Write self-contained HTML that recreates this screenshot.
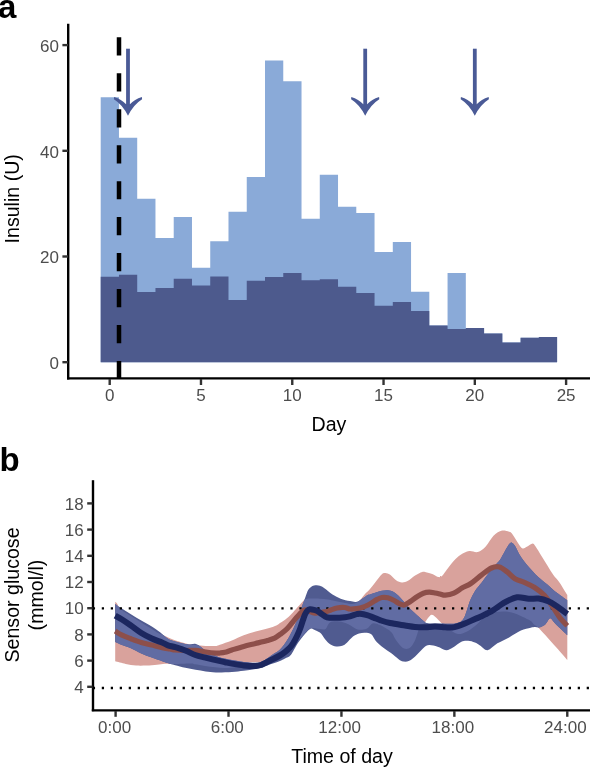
<!DOCTYPE html>
<html><head><meta charset="utf-8"><style>
html,body{margin:0;padding:0;background:#fff;}
body{width:590px;height:767px;overflow:hidden;position:relative;}
svg{position:absolute;left:0;top:0;will-change:transform;}
text{font-family:"Liberation Sans",sans-serif;}
.tk{font-size:17px;fill:#4d4d4d;}
.ti{font-size:19.6px;fill:#000;}
.lab{font-size:33px;font-weight:bold;fill:#000;}
</style></head><body>
<svg width="590" height="767" viewBox="0 0 590 767">
<path d="M100.7,362.2 L100.7,97.3 L118.96,97.3 L118.96,137.7 L137.21,137.7 L137.21,198.7 L155.47,198.7 L155.47,238.1 L173.72,238.1 L173.72,217 L191.98,217 L191.98,267.8 L210.24,267.8 L210.24,241.2 L228.49,241.2 L228.49,211.8 L246.75,211.8 L246.75,177 L265,177 L265,60.4 L283.26,60.4 L283.26,81.3 L301.52,81.3 L301.52,218.8 L319.77,218.8 L319.77,174.7 L338.03,174.7 L338.03,206.7 L356.28,206.7 L356.28,213.1 L374.54,213.1 L374.54,252 L392.8,252 L392.8,242.1 L411.05,242.1 L411.05,291.7 L429.31,291.7 L429.31,325.5 L447.56,325.5 L447.56,273.1 L465.82,273.1 L465.82,328 L484.08,328 L484.08,333.4 L502.33,333.4 L502.33,342.5 L520.59,342.5 L520.59,337.8 L538.84,337.8 L538.84,336.9 L557.1,336.9 L557.1,362.2 Z" fill="#8aaad8"/>
<path d="M100.7,362.2 L100.7,276.7 L118.96,276.7 L118.96,274.7 L137.21,274.7 L137.21,292 L155.47,292 L155.47,288.1 L173.72,288.1 L173.72,278.7 L191.98,278.7 L191.98,285.6 L210.24,285.6 L210.24,276.4 L228.49,276.4 L228.49,300 L246.75,300 L246.75,280.8 L265,280.8 L265,277 L283.26,277 L283.26,273.1 L301.52,273.1 L301.52,280.3 L319.77,280.3 L319.77,279.2 L338.03,279.2 L338.03,286.8 L356.28,286.8 L356.28,293.1 L374.54,293.1 L374.54,305.7 L392.8,305.7 L392.8,302.1 L411.05,302.1 L411.05,311 L429.31,311 L429.31,325.5 L447.56,325.5 L447.56,328.9 L465.82,328.9 L465.82,328 L484.08,328 L484.08,333.4 L502.33,333.4 L502.33,342.5 L520.59,342.5 L520.59,337.8 L538.84,337.8 L538.84,336.9 L557.1,336.9 L557.1,362.2 Z" fill="#4d5a8d"/>
<line x1="119" y1="37.3" x2="119" y2="378" stroke="#000" stroke-width="4.5" stroke-dasharray="18.2 17.76"/>
<line x1="128" y1="48.7" x2="128" y2="106" stroke="#4a5a96" stroke-width="3.8"/>
<path d="M114.1,97 Q121.5,99.3 126.1,104.3 L129.9,104.3 Q134.5,99.3 141.9,97 L142.1,99.2 Q133.5,104.5 128,115.8 Q122.5,104.5 113.9,99.2 Z" fill="#4a5a96"/>
<line x1="365.2" y1="48.7" x2="365.2" y2="106" stroke="#4a5a96" stroke-width="3.8"/>
<path d="M351.3,97 Q358.7,99.3 363.3,104.3 L367.1,104.3 Q371.7,99.3 379.1,97 L379.3,99.2 Q370.7,104.5 365.2,115.8 Q359.7,104.5 351.1,99.2 Z" fill="#4a5a96"/>
<line x1="474.8" y1="48.7" x2="474.8" y2="106" stroke="#4a5a96" stroke-width="3.8"/>
<path d="M460.9,97 Q468.3,99.3 472.9,104.3 L476.7,104.3 Q481.3,99.3 488.7,97 L488.9,99.2 Q480.3,104.5 474.8,115.8 Q469.3,104.5 460.7,99.2 Z" fill="#4a5a96"/>
<line x1="68.2" y1="23.7" x2="68.2" y2="379.6" stroke="#000" stroke-width="2.4"/>
<line x1="67" y1="378.4" x2="590" y2="378.4" stroke="#000" stroke-width="2.4"/>
<line x1="62.4" y1="362.2" x2="68" y2="362.2" stroke="#333" stroke-width="2.4"/>
<text x="59" y="369.1" text-anchor="end" class="tk">0</text>
<line x1="62.4" y1="256.5" x2="68" y2="256.5" stroke="#333" stroke-width="2.4"/>
<text x="59" y="263.4" text-anchor="end" class="tk">20</text>
<line x1="62.4" y1="150.8" x2="68" y2="150.8" stroke="#333" stroke-width="2.4"/>
<text x="59" y="157.7" text-anchor="end" class="tk">40</text>
<line x1="62.4" y1="45.1" x2="68" y2="45.1" stroke="#333" stroke-width="2.4"/>
<text x="59" y="52" text-anchor="end" class="tk">60</text>
<line x1="109.7" y1="379" x2="109.7" y2="385" stroke="#333" stroke-width="2.4"/>
<text x="109.7" y="401" text-anchor="middle" class="tk">0</text>
<line x1="200.98" y1="379" x2="200.98" y2="385" stroke="#333" stroke-width="2.4"/>
<text x="200.98" y="401" text-anchor="middle" class="tk">5</text>
<line x1="292.26" y1="379" x2="292.26" y2="385" stroke="#333" stroke-width="2.4"/>
<text x="292.26" y="401" text-anchor="middle" class="tk">10</text>
<line x1="383.54" y1="379" x2="383.54" y2="385" stroke="#333" stroke-width="2.4"/>
<text x="383.54" y="401" text-anchor="middle" class="tk">15</text>
<line x1="474.82" y1="379" x2="474.82" y2="385" stroke="#333" stroke-width="2.4"/>
<text x="474.82" y="401" text-anchor="middle" class="tk">20</text>
<line x1="566.1" y1="379" x2="566.1" y2="385" stroke="#333" stroke-width="2.4"/>
<text x="566.1" y="401" text-anchor="middle" class="tk">25</text>
<text x="329" y="431.2" text-anchor="middle" class="ti">Day</text>
<text transform="translate(19,198.8) rotate(-90)" text-anchor="middle" class="ti">Insulin (U)</text>
<text x="-2" y="17.8" class="lab">a</text>
<defs><clipPath id="cb"><path d="M115.2,603.9 C116.07,604.5 117.78,605.77 120.4,607.5 C123.02,609.23 127.42,612.13 130.9,614.3 C134.38,616.47 137.82,618.47 141.3,620.5 C144.78,622.53 148.67,624.53 151.8,626.5 C154.93,628.47 157.9,630.63 160.1,632.3 C162.3,633.97 163.27,635.22 165,636.5 C166.73,637.78 167.88,638.92 170.5,640 C173.12,641.08 177.65,642.25 180.7,643 C183.75,643.75 186.92,644.33 188.8,644.5 C190.68,644.67 190.97,644.12 192,644 C193.03,643.88 193.73,643.48 195,643.8 C196.27,644.12 197.82,644.78 199.6,645.9 C201.38,647.02 203.63,649.15 205.7,650.5 C207.77,651.85 209.62,652.83 212,654 C214.38,655.17 216.68,656.5 220,657.5 C223.32,658.5 227.95,659.25 231.9,660 C235.85,660.75 239.75,661.53 243.7,662 C247.65,662.47 252.55,662.88 255.6,662.8 C258.65,662.72 260.1,662.22 262,661.5 C263.9,660.78 265.33,659.58 267,658.5 C268.67,657.42 269.83,656.5 272,655 C274.17,653.5 277.47,651.98 280,649.5 C282.53,647.02 284.82,643.93 287.2,640.1 C289.58,636.27 292.52,630.2 294.3,626.5 C296.08,622.8 296.78,620.82 297.9,617.9 C299.02,614.98 299.92,611.98 301,609 C302.08,606.02 303.48,602.5 304.4,600 C305.32,597.5 305.82,595.75 306.5,594 C307.18,592.25 307.58,590.8 308.5,589.5 C309.42,588.2 310.7,586.92 312,586.2 C313.3,585.48 314.97,585.27 316.3,585.2 C317.63,585.13 318.65,585.3 320,585.8 C321.35,586.3 322.32,586.75 324.4,588.2 C326.48,589.65 329.78,592.75 332.5,594.5 C335.22,596.25 337.78,597.6 340.7,598.7 C343.62,599.8 347.32,600.58 350,601.1 C352.68,601.62 354.53,602.37 356.8,601.8 C359.07,601.23 361.8,598.83 363.6,597.7 C365.4,596.57 366.53,595.55 367.6,595 C368.67,594.45 368.62,594.8 370,594.4 C371.38,594 373.92,593.2 375.9,592.6 C377.88,592 379.92,591.2 381.9,590.8 C383.88,590.4 385.83,590 387.8,590.2 C389.77,590.4 391.72,590.87 393.7,592 C395.68,593.13 397.82,595.17 399.7,597 C401.58,598.83 403.23,600.98 405,603 C406.77,605.02 408.28,607.07 410.3,609.1 C412.32,611.13 414.83,613.17 417.1,615.2 C419.37,617.23 422.08,619.97 423.9,621.3 C425.72,622.63 425.32,622.82 428,623.2 C430.68,623.58 436,623.5 440,623.6 C444,623.7 449.17,623.9 452,623.8 C454.83,623.7 455.53,623.35 457,623 C458.47,622.65 459.6,622.6 460.8,621.7 C462,620.8 463.18,619.52 464.2,617.6 C465.22,615.68 465.88,613.13 466.9,610.2 C467.92,607.27 468.95,603.2 470.3,600 C471.65,596.8 473.1,593.9 475,591 C476.9,588.1 479.53,585.43 481.7,582.6 C483.87,579.77 485.72,576.93 488,574 C490.28,571.07 493.4,567.38 495.4,565 C497.4,562.62 498.45,561.97 500,559.7 C501.55,557.43 503.02,554.18 504.7,551.4 C506.38,548.62 508.72,544.32 510.1,543 C511.48,541.68 512.12,542.9 513,543.5 C513.88,544.1 514.4,544.9 515.4,546.6 C516.4,548.3 517.62,551.33 519,553.7 C520.38,556.07 521.92,558.42 523.7,560.8 C525.48,563.18 527.72,565.72 529.7,568 C531.68,570.28 533.63,572.53 535.6,574.5 C537.57,576.47 539.53,578.12 541.5,579.8 C543.47,581.48 545.42,582.9 547.4,584.6 C549.38,586.3 551.42,588.35 553.4,590 C555.38,591.65 556.98,592.78 559.3,594.5 C561.62,596.22 565.97,599.33 567.3,600.3 L567.3,635.3 C566.57,634.6 564.33,632.48 562.9,631.1 C561.47,629.72 560.18,628.48 558.7,627 C557.22,625.52 555.43,623.65 554,622.2 C552.57,620.75 551.48,618 550.1,618.3 C548.72,618.6 547.05,622.63 545.7,624 C544.35,625.37 543.18,625.92 542,626.5 C540.82,627.08 539.77,627.42 538.6,627.5 C537.43,627.58 536.32,626.97 535,627 C533.68,627.03 533.05,627.1 530.7,627.7 C528.35,628.3 524.5,628.98 520.9,630.6 C517.3,632.22 513.02,635.28 509.1,637.4 C505.18,639.52 500.98,641.17 497.4,643.3 C493.82,645.43 490.5,649.83 487.6,650.2 C484.7,650.57 482.12,646.78 480,645.5 C477.88,644.22 476.88,643.28 474.9,642.5 C472.92,641.72 470.35,640.93 468.1,640.8 C465.85,640.67 463.93,640.57 461.4,641.7 C458.87,642.83 455.45,646.18 452.9,647.6 C450.35,649.02 448.65,650.33 446.1,650.2 C443.55,650.07 440.42,647.65 437.6,646.8 C434.78,645.95 431.47,644.98 429.2,645.1 C426.93,645.22 425.53,646.42 424,647.5 C422.47,648.58 421.43,650.15 420,651.6 C418.57,653.05 417.18,654.67 415.4,656.2 C413.62,657.73 411.33,659.92 409.3,660.8 C407.27,661.68 404.98,661.77 403.2,661.5 C401.42,661.23 400.63,660.6 398.6,659.2 C396.57,657.8 393.53,655 391,653.1 C388.47,651.2 385.93,649.83 383.4,647.8 C380.87,645.77 377.82,643.15 375.8,640.9 C373.78,638.65 373.07,635.65 371.3,634.3 C369.53,632.95 367.23,632.92 365.2,632.8 C363.17,632.68 361.13,632.97 359.1,633.6 C357.07,634.23 355.03,635.08 353,636.6 C350.97,638.12 348.68,641.17 346.9,642.7 C345.12,644.23 344.08,645.17 342.3,645.8 C340.52,646.43 338.23,646.77 336.2,646.5 C334.17,646.23 331.88,645.33 330.1,644.2 C328.32,643.07 327.02,641.48 325.5,639.7 C323.98,637.92 322.25,634.87 321,633.5 C319.75,632.13 319.22,632.18 318,631.5 C316.78,630.82 315.02,629.83 313.7,629.4 C312.38,628.97 311.53,628.18 310.1,628.9 C308.67,629.62 307.13,631.35 305.1,633.7 C303.07,636.05 300.28,639.45 297.9,643 C295.52,646.55 292.95,652.42 290.8,655 C288.65,657.58 286.92,657.45 285,658.5 C283.08,659.55 282.23,660.15 279.3,661.3 C276.37,662.45 271.35,664.12 267.4,665.4 C263.45,666.68 259.55,668.1 255.6,669 C251.65,669.9 247.65,670.3 243.7,670.8 C239.75,671.3 236.53,671.73 231.9,672 C227.27,672.27 220.27,672.5 215.9,672.4 C211.53,672.3 209.1,671.83 205.7,671.4 C202.3,670.97 198.9,670.4 195.5,669.8 C192.1,669.2 188.68,668.55 185.3,667.8 C181.92,667.05 177.75,665.97 175.2,665.3 C172.65,664.63 172.17,664.47 170,663.8 C167.83,663.13 165.23,662.33 162.2,661.3 C159.17,660.27 155.28,658.9 151.8,657.6 C148.32,656.3 144.78,655.07 141.3,653.5 C137.82,651.93 134.12,649.62 130.9,648.2 C127.68,646.78 124.62,646.03 122,645 C119.38,643.97 116.33,642.5 115.2,642 Z"/></clipPath></defs>
<path d="M115.2,601.8 C115.5,602.08 116.13,602.3 117,603.5 C117.87,604.7 118.08,606.92 120.4,609 C122.72,611.08 127.42,613.75 130.9,616 C134.38,618.25 137.82,620.33 141.3,622.5 C144.78,624.67 149.02,627.25 151.8,629 C154.58,630.75 156.23,632.03 158,633 C159.77,633.97 160.32,633.9 162.4,634.8 C164.48,635.7 167.45,637.2 170.5,638.4 C173.55,639.6 177.65,641.02 180.7,642 C183.75,642.98 186.42,643.8 188.8,644.3 C191.18,644.8 192.18,644.73 195,645 C197.82,645.27 202.22,645.75 205.7,645.9 C209.18,646.05 213.52,646.1 215.9,645.9 C218.28,645.7 217.33,645.6 220,644.7 C222.67,643.8 227.95,642.08 231.9,640.5 C235.85,638.92 239.75,636.68 243.7,635.2 C247.65,633.72 251.65,632.7 255.6,631.6 C259.55,630.5 263.85,629.67 267.4,628.6 C270.95,627.53 274.8,626.13 276.9,625.2 C279,624.27 278.82,623.78 280,623 C281.18,622.22 282.33,621.75 284,620.5 C285.67,619.25 288,617.42 290,615.5 C292,613.58 293.72,611.5 296,609 C298.28,606.5 302.03,602.17 303.7,600.5 C305.37,598.83 304.95,599.33 306,599 C307.05,598.67 307.67,598.55 310,598.5 C312.33,598.45 317,598.53 320,598.7 C323,598.87 325.5,599.12 328,599.5 C330.5,599.88 332.17,600.42 335,601 C337.83,601.58 342.17,602.5 345,603 C347.83,603.5 350,604.08 352,604 C354,603.92 355.5,603.33 357,602.5 C358.5,601.67 359.67,600.42 361,599 C362.33,597.58 363.5,595.67 365,594 C366.5,592.33 368.18,591.1 370,589 C371.82,586.9 373.92,583.87 375.9,581.4 C377.88,578.93 380.32,575.6 381.9,574.2 C383.48,572.8 384.02,572.9 385.4,573 C386.78,573.1 388.42,573.6 390.2,574.8 C391.98,576 394.13,578.92 396.1,580.2 C398.07,581.48 400.02,582.4 402,582.5 C403.98,582.6 405.82,581.98 408,580.8 C410.18,579.62 412.73,576.88 415.1,575.4 C417.47,573.92 420.23,572.38 422.2,571.9 C424.17,571.42 425.12,572.12 426.9,572.5 C428.68,572.88 431.05,573.45 432.9,574.2 C434.75,574.95 436.48,576.7 438,577 C439.52,577.3 440.48,577.3 442,576 C443.52,574.7 445.12,571.75 447.1,569.2 C449.08,566.65 451.63,563.12 453.9,560.7 C456.17,558.28 458.15,556.32 460.7,554.7 C463.25,553.08 466.35,551.45 469.2,551 C472.05,550.55 475.05,552.77 477.8,552 C480.55,551.23 483.08,549.12 485.7,546.4 C488.32,543.68 490.9,538.3 493.5,535.7 C496.1,533.1 498.7,531.47 501.3,530.8 C503.9,530.13 507.33,531.23 509.1,531.7 C510.87,532.17 510.65,532.1 511.9,533.6 C513.15,535.1 515.02,538.33 516.6,540.7 C518.18,543.07 520.17,546.55 521.4,547.8 C522.63,549.05 523.02,548.4 524,548.2 C524.98,548 525.87,547.4 527.3,546.6 C528.73,545.8 531.22,543.4 532.6,543.4 C533.98,543.4 534.12,544.48 535.6,546.6 C537.08,548.72 539.53,552.93 541.5,556.1 C543.47,559.27 545.42,562.43 547.4,565.6 C549.38,568.77 551.42,572.33 553.4,575.1 C555.38,577.87 557.33,579.43 559.3,582.2 C561.27,584.97 563.87,589.57 565.2,591.7 C566.53,593.83 566.95,594.45 567.3,595 L567.3,660 C565.75,658.22 561.17,652.88 558,649.3 C554.83,645.72 551.55,642.08 548.3,638.5 C545.05,634.92 540.88,630.13 538.5,627.8 C536.12,625.47 535.63,625.83 534,624.5 C532.37,623.17 532.85,621.88 528.7,619.8 C524.55,617.72 515.62,612.97 509.1,612 C502.58,611.03 495.28,611.67 489.6,614 C483.92,616.33 478.93,623 475,626 C471.07,629 468.83,630.67 466,632 C463.17,633.33 460.67,634.33 458,634 C455.33,633.67 452.7,631.77 450,630 C447.3,628.23 444.13,625.48 441.8,623.4 C439.47,621.32 437.68,618.93 436,617.5 C434.32,616.07 433.03,614.72 431.7,614.8 C430.37,614.88 429.18,616.65 428,618 C426.82,619.35 425.77,621.73 424.6,622.9 C423.43,624.07 422.02,623.77 421,625 C419.98,626.23 419.43,627.9 418.5,630.3 C417.57,632.7 416.68,636.62 415.4,639.4 C414.12,642.18 412.32,645.42 410.8,647 C409.28,648.58 407.82,648.9 406.3,648.9 C404.78,648.9 403.48,648.58 401.7,647 C399.92,645.42 397.22,641.73 395.6,639.4 C393.98,637.07 393.27,634.65 392,633 C390.73,631.35 390,630.83 388,629.5 C386,628.17 382.55,626.02 380,625 C377.45,623.98 374.93,622.78 372.7,623.4 C370.47,624.02 369.13,627.68 366.6,628.7 C364.07,629.72 360.55,630.25 357.5,629.5 C354.45,628.75 351.38,625.53 348.3,624.2 C345.22,622.87 342.05,621.78 339,621.5 C335.95,621.22 332.25,621.25 330,622.5 C327.75,623.75 327.17,627.92 325.5,629 C323.83,630.08 321.75,629.13 320,629 C318.25,628.87 316.67,628.28 315,628.2 C313.33,628.12 311.67,627.7 310,628.5 C308.33,629.3 307.02,630.92 305,633 C302.98,635.08 300.27,638 297.9,641 C295.53,644 292.95,649.17 290.8,651 C288.65,652.83 286.92,651.83 285,652 C283.08,652.17 281.23,651.45 279.3,652 C277.37,652.55 275.38,654.15 273.4,655.3 C271.42,656.45 269.47,657.78 267.4,658.9 C265.33,660.02 262.97,661.45 261,662 C259.03,662.55 257.43,662.12 255.6,662.2 C253.77,662.28 251.98,662.2 250,662.5 C248.02,662.8 246.08,663.25 243.7,664 C241.32,664.75 238.82,666.33 235.7,667 C232.58,667.67 228.4,667.95 225,668 C221.6,668.05 218.63,667.63 215.3,667.3 C211.97,666.97 208.38,666.5 205,666 C201.62,665.5 197.5,664.72 195,664.3 C192.5,663.88 193.33,663.55 190,663.5 C186.67,663.45 179.17,663.97 175,664 C170.83,664.03 168,663.58 165,663.7 C162,663.82 160.08,664.4 157,664.7 C153.92,665 149.98,665.37 146.5,665.5 C143.02,665.63 139.57,665.77 136.1,665.5 C132.63,665.23 129.18,664.6 125.7,663.9 C122.22,663.2 116.95,661.73 115.2,661.3 Z" fill="#d9a29c"/>
<path d="M115.2,603.9 C116.07,604.5 117.78,605.77 120.4,607.5 C123.02,609.23 127.42,612.13 130.9,614.3 C134.38,616.47 137.82,618.47 141.3,620.5 C144.78,622.53 148.67,624.53 151.8,626.5 C154.93,628.47 157.9,630.63 160.1,632.3 C162.3,633.97 163.27,635.22 165,636.5 C166.73,637.78 167.88,638.92 170.5,640 C173.12,641.08 177.65,642.25 180.7,643 C183.75,643.75 186.92,644.33 188.8,644.5 C190.68,644.67 190.97,644.12 192,644 C193.03,643.88 193.73,643.48 195,643.8 C196.27,644.12 197.82,644.78 199.6,645.9 C201.38,647.02 203.63,649.15 205.7,650.5 C207.77,651.85 209.62,652.83 212,654 C214.38,655.17 216.68,656.5 220,657.5 C223.32,658.5 227.95,659.25 231.9,660 C235.85,660.75 239.75,661.53 243.7,662 C247.65,662.47 252.55,662.88 255.6,662.8 C258.65,662.72 260.1,662.22 262,661.5 C263.9,660.78 265.33,659.58 267,658.5 C268.67,657.42 269.83,656.5 272,655 C274.17,653.5 277.47,651.98 280,649.5 C282.53,647.02 284.82,643.93 287.2,640.1 C289.58,636.27 292.52,630.2 294.3,626.5 C296.08,622.8 296.78,620.82 297.9,617.9 C299.02,614.98 299.92,611.98 301,609 C302.08,606.02 303.48,602.5 304.4,600 C305.32,597.5 305.82,595.75 306.5,594 C307.18,592.25 307.58,590.8 308.5,589.5 C309.42,588.2 310.7,586.92 312,586.2 C313.3,585.48 314.97,585.27 316.3,585.2 C317.63,585.13 318.65,585.3 320,585.8 C321.35,586.3 322.32,586.75 324.4,588.2 C326.48,589.65 329.78,592.75 332.5,594.5 C335.22,596.25 337.78,597.6 340.7,598.7 C343.62,599.8 347.32,600.58 350,601.1 C352.68,601.62 354.53,602.37 356.8,601.8 C359.07,601.23 361.8,598.83 363.6,597.7 C365.4,596.57 366.53,595.55 367.6,595 C368.67,594.45 368.62,594.8 370,594.4 C371.38,594 373.92,593.2 375.9,592.6 C377.88,592 379.92,591.2 381.9,590.8 C383.88,590.4 385.83,590 387.8,590.2 C389.77,590.4 391.72,590.87 393.7,592 C395.68,593.13 397.82,595.17 399.7,597 C401.58,598.83 403.23,600.98 405,603 C406.77,605.02 408.28,607.07 410.3,609.1 C412.32,611.13 414.83,613.17 417.1,615.2 C419.37,617.23 422.08,619.97 423.9,621.3 C425.72,622.63 425.32,622.82 428,623.2 C430.68,623.58 436,623.5 440,623.6 C444,623.7 449.17,623.9 452,623.8 C454.83,623.7 455.53,623.35 457,623 C458.47,622.65 459.6,622.6 460.8,621.7 C462,620.8 463.18,619.52 464.2,617.6 C465.22,615.68 465.88,613.13 466.9,610.2 C467.92,607.27 468.95,603.2 470.3,600 C471.65,596.8 473.1,593.9 475,591 C476.9,588.1 479.53,585.43 481.7,582.6 C483.87,579.77 485.72,576.93 488,574 C490.28,571.07 493.4,567.38 495.4,565 C497.4,562.62 498.45,561.97 500,559.7 C501.55,557.43 503.02,554.18 504.7,551.4 C506.38,548.62 508.72,544.32 510.1,543 C511.48,541.68 512.12,542.9 513,543.5 C513.88,544.1 514.4,544.9 515.4,546.6 C516.4,548.3 517.62,551.33 519,553.7 C520.38,556.07 521.92,558.42 523.7,560.8 C525.48,563.18 527.72,565.72 529.7,568 C531.68,570.28 533.63,572.53 535.6,574.5 C537.57,576.47 539.53,578.12 541.5,579.8 C543.47,581.48 545.42,582.9 547.4,584.6 C549.38,586.3 551.42,588.35 553.4,590 C555.38,591.65 556.98,592.78 559.3,594.5 C561.62,596.22 565.97,599.33 567.3,600.3 L567.3,635.3 C566.57,634.6 564.33,632.48 562.9,631.1 C561.47,629.72 560.18,628.48 558.7,627 C557.22,625.52 555.43,623.65 554,622.2 C552.57,620.75 551.48,618 550.1,618.3 C548.72,618.6 547.05,622.63 545.7,624 C544.35,625.37 543.18,625.92 542,626.5 C540.82,627.08 539.77,627.42 538.6,627.5 C537.43,627.58 536.32,626.97 535,627 C533.68,627.03 533.05,627.1 530.7,627.7 C528.35,628.3 524.5,628.98 520.9,630.6 C517.3,632.22 513.02,635.28 509.1,637.4 C505.18,639.52 500.98,641.17 497.4,643.3 C493.82,645.43 490.5,649.83 487.6,650.2 C484.7,650.57 482.12,646.78 480,645.5 C477.88,644.22 476.88,643.28 474.9,642.5 C472.92,641.72 470.35,640.93 468.1,640.8 C465.85,640.67 463.93,640.57 461.4,641.7 C458.87,642.83 455.45,646.18 452.9,647.6 C450.35,649.02 448.65,650.33 446.1,650.2 C443.55,650.07 440.42,647.65 437.6,646.8 C434.78,645.95 431.47,644.98 429.2,645.1 C426.93,645.22 425.53,646.42 424,647.5 C422.47,648.58 421.43,650.15 420,651.6 C418.57,653.05 417.18,654.67 415.4,656.2 C413.62,657.73 411.33,659.92 409.3,660.8 C407.27,661.68 404.98,661.77 403.2,661.5 C401.42,661.23 400.63,660.6 398.6,659.2 C396.57,657.8 393.53,655 391,653.1 C388.47,651.2 385.93,649.83 383.4,647.8 C380.87,645.77 377.82,643.15 375.8,640.9 C373.78,638.65 373.07,635.65 371.3,634.3 C369.53,632.95 367.23,632.92 365.2,632.8 C363.17,632.68 361.13,632.97 359.1,633.6 C357.07,634.23 355.03,635.08 353,636.6 C350.97,638.12 348.68,641.17 346.9,642.7 C345.12,644.23 344.08,645.17 342.3,645.8 C340.52,646.43 338.23,646.77 336.2,646.5 C334.17,646.23 331.88,645.33 330.1,644.2 C328.32,643.07 327.02,641.48 325.5,639.7 C323.98,637.92 322.25,634.87 321,633.5 C319.75,632.13 319.22,632.18 318,631.5 C316.78,630.82 315.02,629.83 313.7,629.4 C312.38,628.97 311.53,628.18 310.1,628.9 C308.67,629.62 307.13,631.35 305.1,633.7 C303.07,636.05 300.28,639.45 297.9,643 C295.52,646.55 292.95,652.42 290.8,655 C288.65,657.58 286.92,657.45 285,658.5 C283.08,659.55 282.23,660.15 279.3,661.3 C276.37,662.45 271.35,664.12 267.4,665.4 C263.45,666.68 259.55,668.1 255.6,669 C251.65,669.9 247.65,670.3 243.7,670.8 C239.75,671.3 236.53,671.73 231.9,672 C227.27,672.27 220.27,672.5 215.9,672.4 C211.53,672.3 209.1,671.83 205.7,671.4 C202.3,670.97 198.9,670.4 195.5,669.8 C192.1,669.2 188.68,668.55 185.3,667.8 C181.92,667.05 177.75,665.97 175.2,665.3 C172.65,664.63 172.17,664.47 170,663.8 C167.83,663.13 165.23,662.33 162.2,661.3 C159.17,660.27 155.28,658.9 151.8,657.6 C148.32,656.3 144.78,655.07 141.3,653.5 C137.82,651.93 134.12,649.62 130.9,648.2 C127.68,646.78 124.62,646.03 122,645 C119.38,643.97 116.33,642.5 115.2,642 Z" fill="#505b90"/>
<path d="M115.2,601.8 C115.5,602.08 116.13,602.3 117,603.5 C117.87,604.7 118.08,606.92 120.4,609 C122.72,611.08 127.42,613.75 130.9,616 C134.38,618.25 137.82,620.33 141.3,622.5 C144.78,624.67 149.02,627.25 151.8,629 C154.58,630.75 156.23,632.03 158,633 C159.77,633.97 160.32,633.9 162.4,634.8 C164.48,635.7 167.45,637.2 170.5,638.4 C173.55,639.6 177.65,641.02 180.7,642 C183.75,642.98 186.42,643.8 188.8,644.3 C191.18,644.8 192.18,644.73 195,645 C197.82,645.27 202.22,645.75 205.7,645.9 C209.18,646.05 213.52,646.1 215.9,645.9 C218.28,645.7 217.33,645.6 220,644.7 C222.67,643.8 227.95,642.08 231.9,640.5 C235.85,638.92 239.75,636.68 243.7,635.2 C247.65,633.72 251.65,632.7 255.6,631.6 C259.55,630.5 263.85,629.67 267.4,628.6 C270.95,627.53 274.8,626.13 276.9,625.2 C279,624.27 278.82,623.78 280,623 C281.18,622.22 282.33,621.75 284,620.5 C285.67,619.25 288,617.42 290,615.5 C292,613.58 293.72,611.5 296,609 C298.28,606.5 302.03,602.17 303.7,600.5 C305.37,598.83 304.95,599.33 306,599 C307.05,598.67 307.67,598.55 310,598.5 C312.33,598.45 317,598.53 320,598.7 C323,598.87 325.5,599.12 328,599.5 C330.5,599.88 332.17,600.42 335,601 C337.83,601.58 342.17,602.5 345,603 C347.83,603.5 350,604.08 352,604 C354,603.92 355.5,603.33 357,602.5 C358.5,601.67 359.67,600.42 361,599 C362.33,597.58 363.5,595.67 365,594 C366.5,592.33 368.18,591.1 370,589 C371.82,586.9 373.92,583.87 375.9,581.4 C377.88,578.93 380.32,575.6 381.9,574.2 C383.48,572.8 384.02,572.9 385.4,573 C386.78,573.1 388.42,573.6 390.2,574.8 C391.98,576 394.13,578.92 396.1,580.2 C398.07,581.48 400.02,582.4 402,582.5 C403.98,582.6 405.82,581.98 408,580.8 C410.18,579.62 412.73,576.88 415.1,575.4 C417.47,573.92 420.23,572.38 422.2,571.9 C424.17,571.42 425.12,572.12 426.9,572.5 C428.68,572.88 431.05,573.45 432.9,574.2 C434.75,574.95 436.48,576.7 438,577 C439.52,577.3 440.48,577.3 442,576 C443.52,574.7 445.12,571.75 447.1,569.2 C449.08,566.65 451.63,563.12 453.9,560.7 C456.17,558.28 458.15,556.32 460.7,554.7 C463.25,553.08 466.35,551.45 469.2,551 C472.05,550.55 475.05,552.77 477.8,552 C480.55,551.23 483.08,549.12 485.7,546.4 C488.32,543.68 490.9,538.3 493.5,535.7 C496.1,533.1 498.7,531.47 501.3,530.8 C503.9,530.13 507.33,531.23 509.1,531.7 C510.87,532.17 510.65,532.1 511.9,533.6 C513.15,535.1 515.02,538.33 516.6,540.7 C518.18,543.07 520.17,546.55 521.4,547.8 C522.63,549.05 523.02,548.4 524,548.2 C524.98,548 525.87,547.4 527.3,546.6 C528.73,545.8 531.22,543.4 532.6,543.4 C533.98,543.4 534.12,544.48 535.6,546.6 C537.08,548.72 539.53,552.93 541.5,556.1 C543.47,559.27 545.42,562.43 547.4,565.6 C549.38,568.77 551.42,572.33 553.4,575.1 C555.38,577.87 557.33,579.43 559.3,582.2 C561.27,584.97 563.87,589.57 565.2,591.7 C566.53,593.83 566.95,594.45 567.3,595 L567.3,660 C565.75,658.22 561.17,652.88 558,649.3 C554.83,645.72 551.55,642.08 548.3,638.5 C545.05,634.92 540.88,630.13 538.5,627.8 C536.12,625.47 535.63,625.83 534,624.5 C532.37,623.17 532.85,621.88 528.7,619.8 C524.55,617.72 515.62,612.97 509.1,612 C502.58,611.03 495.28,611.67 489.6,614 C483.92,616.33 478.93,623 475,626 C471.07,629 468.83,630.67 466,632 C463.17,633.33 460.67,634.33 458,634 C455.33,633.67 452.7,631.77 450,630 C447.3,628.23 444.13,625.48 441.8,623.4 C439.47,621.32 437.68,618.93 436,617.5 C434.32,616.07 433.03,614.72 431.7,614.8 C430.37,614.88 429.18,616.65 428,618 C426.82,619.35 425.77,621.73 424.6,622.9 C423.43,624.07 422.02,623.77 421,625 C419.98,626.23 419.43,627.9 418.5,630.3 C417.57,632.7 416.68,636.62 415.4,639.4 C414.12,642.18 412.32,645.42 410.8,647 C409.28,648.58 407.82,648.9 406.3,648.9 C404.78,648.9 403.48,648.58 401.7,647 C399.92,645.42 397.22,641.73 395.6,639.4 C393.98,637.07 393.27,634.65 392,633 C390.73,631.35 390,630.83 388,629.5 C386,628.17 382.55,626.02 380,625 C377.45,623.98 374.93,622.78 372.7,623.4 C370.47,624.02 369.13,627.68 366.6,628.7 C364.07,629.72 360.55,630.25 357.5,629.5 C354.45,628.75 351.38,625.53 348.3,624.2 C345.22,622.87 342.05,621.78 339,621.5 C335.95,621.22 332.25,621.25 330,622.5 C327.75,623.75 327.17,627.92 325.5,629 C323.83,630.08 321.75,629.13 320,629 C318.25,628.87 316.67,628.28 315,628.2 C313.33,628.12 311.67,627.7 310,628.5 C308.33,629.3 307.02,630.92 305,633 C302.98,635.08 300.27,638 297.9,641 C295.53,644 292.95,649.17 290.8,651 C288.65,652.83 286.92,651.83 285,652 C283.08,652.17 281.23,651.45 279.3,652 C277.37,652.55 275.38,654.15 273.4,655.3 C271.42,656.45 269.47,657.78 267.4,658.9 C265.33,660.02 262.97,661.45 261,662 C259.03,662.55 257.43,662.12 255.6,662.2 C253.77,662.28 251.98,662.2 250,662.5 C248.02,662.8 246.08,663.25 243.7,664 C241.32,664.75 238.82,666.33 235.7,667 C232.58,667.67 228.4,667.95 225,668 C221.6,668.05 218.63,667.63 215.3,667.3 C211.97,666.97 208.38,666.5 205,666 C201.62,665.5 197.5,664.72 195,664.3 C192.5,663.88 193.33,663.55 190,663.5 C186.67,663.45 179.17,663.97 175,664 C170.83,664.03 168,663.58 165,663.7 C162,663.82 160.08,664.4 157,664.7 C153.92,665 149.98,665.37 146.5,665.5 C143.02,665.63 139.57,665.77 136.1,665.5 C132.63,665.23 129.18,664.6 125.7,663.9 C122.22,663.2 116.95,661.73 115.2,661.3 Z" fill="#616ca3" clip-path="url(#cb)"/>
<line x1="92.8" y1="608.4" x2="590" y2="608.4" stroke="#000" stroke-width="2.3" stroke-dasharray="2.25 6.73"/>
<line x1="92.8" y1="688" x2="590" y2="688" stroke="#000" stroke-width="2.3" stroke-dasharray="2.25 6.73"/>
<path d="M115.2,631 C116.33,631.7 119.38,633.9 122,635.2 C124.62,636.5 127.68,637.58 130.9,638.8 C134.12,640.02 137.82,641.45 141.3,642.5 C144.78,643.55 148.32,644.23 151.8,645.1 C155.28,645.97 159.17,647.05 162.2,647.7 C165.23,648.35 167.83,648.62 170,649 C172.17,649.38 172.65,649.75 175.2,650 C177.75,650.25 181.92,650.45 185.3,650.5 C188.68,650.55 192.1,650.05 195.5,650.3 C198.9,650.55 202.3,651.53 205.7,652 C209.1,652.47 213.52,652.93 215.9,653.1 C218.28,653.27 218.48,653.13 220,653 C221.52,652.87 223.02,652.8 225,652.3 C226.98,651.8 228.78,650.98 231.9,650 C235.02,649.02 239.75,647.48 243.7,646.4 C247.65,645.32 251.65,644.48 255.6,643.5 C259.55,642.52 264.23,641.4 267.4,640.5 C270.57,639.6 272.5,639.12 274.6,638.1 C276.7,637.08 277.9,635.97 280,634.4 C282.1,632.83 284.82,631.08 287.2,628.7 C289.58,626.32 291.92,622.85 294.3,620.1 C296.68,617.35 299.72,613.92 301.5,612.2 C303.28,610.48 303.58,609.92 305,609.8 C306.42,609.68 308.5,610.97 310,611.5 C311.5,612.03 312.67,612.78 314,613 C315.33,613.22 316.67,612.92 318,612.8 C319.33,612.68 320.5,612.52 322,612.3 C323.5,612.08 325.5,611.88 327,611.5 C328.5,611.12 329.33,610.58 331,610 C332.67,609.42 334.72,608.42 337,608 C339.28,607.58 342.53,607.33 344.7,607.5 C346.87,607.67 347.98,608.82 350,609 C352.02,609.18 354.53,608.93 356.8,608.6 C359.07,608.27 361.73,607.6 363.6,607 C365.47,606.4 366.53,605.77 368,605 C369.47,604.23 370.88,603.33 372.4,602.4 C373.92,601.47 375.52,600.22 377.1,599.4 C378.68,598.58 380.12,597.77 381.9,597.5 C383.68,597.23 385.83,597.33 387.8,597.8 C389.77,598.27 391.72,599.28 393.7,600.3 C395.68,601.32 397.92,603.12 399.7,603.9 C401.48,604.68 402.63,605.4 404.4,605 C406.17,604.6 408.13,602.92 410.3,601.5 C412.47,600.08 415.22,597.88 417.4,596.5 C419.58,595.12 421.42,593.92 423.4,593.2 C425.38,592.48 427.33,592.23 429.3,592.2 C431.27,592.17 433.42,592.7 435.2,593 C436.98,593.3 438.3,593.63 440,594 C441.7,594.37 443.08,595.33 445.4,595.2 C447.72,595.07 451.07,594.43 453.9,593.2 C456.73,591.97 459.58,589.42 462.4,587.8 C465.22,586.18 467.58,585.67 470.8,583.5 C474.02,581.33 478.25,577.38 481.7,574.8 C485.15,572.22 488.55,569.3 491.5,568 C494.45,566.7 496.78,566.35 499.4,567 C502.02,567.65 504.6,569.95 507.2,571.9 C509.8,573.85 512.07,576.92 515,578.7 C517.93,580.48 521.53,581.13 524.8,582.6 C528.07,584.07 531.33,585.37 534.6,587.5 C537.87,589.63 541.47,592.3 544.4,595.4 C547.33,598.5 549.6,602.35 552.2,606.1 C554.8,609.85 557.48,614.63 560,617.9 C562.52,621.17 566.08,624.4 567.3,625.7" fill="none" stroke="#8d4f4a" stroke-width="5.2" stroke-linejoin="round"/>
<path d="M115.2,615.6 C116.33,616.25 119.38,617.85 122,619.5 C124.62,621.15 127.68,623.25 130.9,625.5 C134.12,627.75 137.82,630.83 141.3,633 C144.78,635.17 148.35,636.92 151.8,638.5 C155.25,640.08 159.3,641.37 162,642.5 C164.7,643.63 165.8,644.52 168,645.3 C170.2,646.08 172.32,646.33 175.2,647.2 C178.08,648.07 181.95,649.2 185.3,650.5 C188.65,651.8 191.93,653.82 195.3,655 C198.67,656.18 202.07,656.73 205.5,657.6 C208.93,658.47 212.65,659.43 215.9,660.2 C219.15,660.97 222.33,661.63 225,662.2 C227.67,662.77 228.78,663.07 231.9,663.6 C235.02,664.13 239.75,665 243.7,665.4 C247.65,665.8 252.63,666.1 255.6,666 C258.57,665.9 259.53,665.48 261.5,664.8 C263.47,664.12 265.42,662.88 267.4,661.9 C269.38,660.92 271.42,659.9 273.4,658.9 C275.38,657.9 277.33,657.08 279.3,655.9 C281.27,654.72 283.42,653.2 285.2,651.8 C286.98,650.4 288.65,648.97 290,647.5 C291.35,646.03 292.13,644.92 293.3,643 C294.47,641.08 295.87,638.38 297,636 C298.13,633.62 299.1,631.37 300.1,628.7 C301.1,626.03 302.17,622.4 303,620 C303.83,617.6 304.35,615.88 305.1,614.3 C305.85,612.72 306.68,611.35 307.5,610.5 C308.32,609.65 308.92,609.32 310,609.2 C311.08,609.08 312.67,609.45 314,609.8 C315.33,610.15 316.67,610.55 318,611.3 C319.33,612.05 320.5,613.3 322,614.3 C323.5,615.3 324.83,616.72 327,617.3 C329.17,617.88 332,617.82 335,617.8 C338,617.78 342.5,617.45 345,617.2 C347.5,616.95 348.03,616.8 350,616.3 C351.97,615.8 355.1,614.62 356.8,614.2 C358.5,613.78 358.5,613.65 360.2,613.8 C361.9,613.95 364.75,614.47 367,615.1 C369.25,615.73 371.45,616.73 373.7,617.6 C375.95,618.47 377.78,619.4 380.5,620.3 C383.22,621.2 385.92,622.13 390,623 C394.08,623.87 400.83,624.83 405,625.5 C409.17,626.17 411.67,626.7 415,627 C418.33,627.3 421.67,627.37 425,627.3 C428.33,627.23 431.63,626.6 435,626.6 C438.37,626.6 442.37,627.15 445.2,627.3 C448.03,627.45 449.75,627.75 452,627.5 C454.25,627.25 456.45,626.5 458.7,625.8 C460.95,625.1 462.78,624.43 465.5,623.3 C468.22,622.17 472.3,620.17 475,619 C477.7,617.83 479.7,617.22 481.7,616.3 C483.7,615.38 485.03,614.55 487,613.5 C488.97,612.45 490.47,611.88 493.5,610 C496.53,608.12 501.28,604.32 505.2,602.2 C509.12,600.08 513.08,597.87 517,597.3 C520.92,596.73 525.12,598.58 528.7,598.8 C532.28,599.02 535.23,598.2 538.5,598.6 C541.77,599 545.37,600 548.3,601.2 C551.23,602.4 552.93,603.67 556.1,605.8 C559.27,607.93 565.43,612.63 567.3,614" fill="none" stroke="#1c275f" stroke-width="6" stroke-linejoin="round"/>
<line x1="93" y1="480.2" x2="93" y2="711.2" stroke="#000" stroke-width="2.4"/>
<line x1="91.8" y1="710.4" x2="590" y2="710.4" stroke="#000" stroke-width="2.4"/>
<line x1="87.2" y1="686.8" x2="92.5" y2="686.8" stroke="#333" stroke-width="2.4"/>
<text x="83.6" y="692.9" text-anchor="end" class="tk">4</text>
<line x1="87.2" y1="660.6" x2="92.5" y2="660.6" stroke="#333" stroke-width="2.4"/>
<text x="83.6" y="666.7" text-anchor="end" class="tk">6</text>
<line x1="87.2" y1="634.4" x2="92.5" y2="634.4" stroke="#333" stroke-width="2.4"/>
<text x="83.6" y="640.5" text-anchor="end" class="tk">8</text>
<line x1="87.2" y1="608.2" x2="92.5" y2="608.2" stroke="#333" stroke-width="2.4"/>
<text x="83.6" y="614.3" text-anchor="end" class="tk">10</text>
<line x1="87.2" y1="582" x2="92.5" y2="582" stroke="#333" stroke-width="2.4"/>
<text x="83.6" y="588.1" text-anchor="end" class="tk">12</text>
<line x1="87.2" y1="555.8" x2="92.5" y2="555.8" stroke="#333" stroke-width="2.4"/>
<text x="83.6" y="561.9" text-anchor="end" class="tk">14</text>
<line x1="87.2" y1="529.6" x2="92.5" y2="529.6" stroke="#333" stroke-width="2.4"/>
<text x="83.6" y="535.7" text-anchor="end" class="tk">16</text>
<line x1="87.2" y1="503.4" x2="92.5" y2="503.4" stroke="#333" stroke-width="2.4"/>
<text x="83.6" y="509.5" text-anchor="end" class="tk">18</text>
<line x1="115.6" y1="711" x2="115.6" y2="716.8" stroke="#333" stroke-width="2.4"/>
<text x="114.6" y="733.3" text-anchor="middle" class="tk">0:00</text>
<line x1="228.52" y1="711" x2="228.52" y2="716.8" stroke="#333" stroke-width="2.4"/>
<text x="227.27" y="733.3" text-anchor="middle" class="tk">6:00</text>
<line x1="341.44" y1="711" x2="341.44" y2="716.8" stroke="#333" stroke-width="2.4"/>
<text x="339.64" y="733.3" text-anchor="middle" class="tk">12:00</text>
<line x1="454.36" y1="711" x2="454.36" y2="716.8" stroke="#333" stroke-width="2.4"/>
<text x="452.86" y="733.3" text-anchor="middle" class="tk">18:00</text>
<line x1="567.28" y1="711" x2="567.28" y2="716.8" stroke="#333" stroke-width="2.4"/>
<text x="565.38" y="733.3" text-anchor="middle" class="tk">24:00</text>
<text x="342" y="763.2" text-anchor="middle" class="ti">Time of day</text>
<text transform="translate(19,595) rotate(-90)" text-anchor="middle" class="ti">Sensor glucose</text>
<text transform="translate(42.5,595) rotate(-90)" text-anchor="middle" class="ti">(mmol/l)</text>
<text x="-0.5" y="471" class="lab">b</text>
</svg>
</body></html>
